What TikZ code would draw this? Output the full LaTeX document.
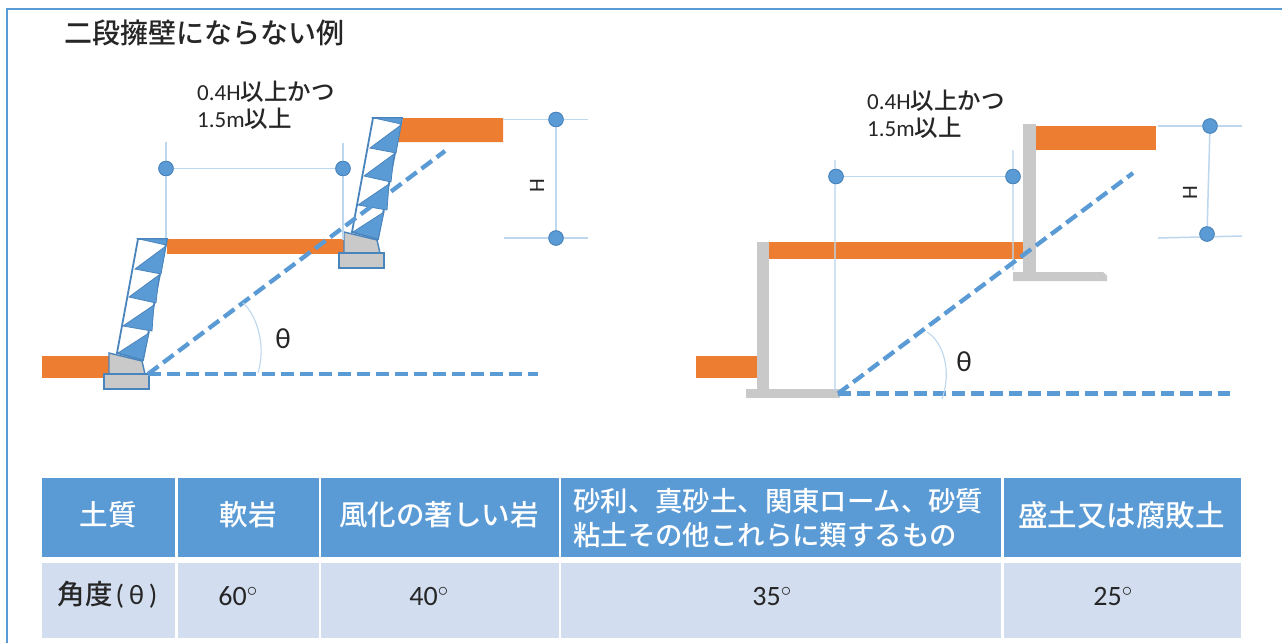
\documentclass[tikz,border=0pt]{standalone}
\usepackage{fontspec}
\setmainfont{Carlito}
\newfontfamily\cjk{Noto Sans CJK JP}[UprightFont=* Medium]
\definecolor{mblue}{HTML}{5B9BD5}
\definecolor{dblue}{HTML}{4A84BC}
\definecolor{lblue}{HTML}{BDD7EE}
\definecolor{morange}{HTML}{ED7D31}
\definecolor{mgray}{HTML}{C9C9C9}
\definecolor{rowfill}{HTML}{D2DEEF}
\definecolor{ink}{HTML}{262626}
\tikzset{
  dimline/.style={draw=lblue,line width=1.5pt},
  slopeline/.style={draw=mblue,line width=4.3pt,dash pattern=on 13pt off 6pt},
  dot/.style={circle,fill=mblue,draw=dblue,line width=0.8pt,minimum size=14.5pt,inner sep=0pt},
  soil/.style={fill=morange},
  concrete/.style={fill=mgray},
  footing/.style={fill=mgray,draw=dblue,line width=1.4pt},
  gabion/.style={draw=dblue,line width=1.8pt,fill=white},
  wedge/.style={fill=mblue,draw=dblue,line width=0.8pt},
  note/.style={font=\fontsize{23}{27}\selectfont,text=ink,align=left,anchor=west,inner sep=0pt},
  heightmark/.style={font=\fontsize{22}{24}\selectfont,text=ink,rotate=90,inner sep=0pt},
  anglemark/.style={font=\fontsize{29}{30}\selectfont,text=ink,inner sep=0pt},
  headcell/.style={fill=mblue},
  bodycell/.style={fill=rowfill},
  headtext/.style={font=\cjk\fontsize{28.5}{34}\selectfont,text=white,inner sep=0pt},
  bodytext/.style={font=\fontsize{28}{30}\selectfont,text=ink,inner sep=0pt},
}
\newcommand{\gabionwall}{%
  \fill[footing] (109,353) -- (142,361) -- (145,374) -- (109,374) -- cycle;
  \fill[footing] (104,374) rectangle (149,389);
  \fill[gabion] (138,239) -- (167,239) -- (143,360) -- (117,353) -- cycle;
  \fill[wedge] (139,239) -- (167,239) -- (166,245) -- cycle;
  \fill[wedge] (166,246) -- (135,269) -- (161,274) -- cycle;
  \fill[wedge] (159,275) -- (129,297) -- (156,303) -- cycle;
  \fill[wedge] (154,305) -- (123,326) -- (152,331) -- cycle;
  \fill[wedge] (149,333) -- (118,353) -- (143,360) -- cycle;
}
\begin{document}
\begin{tikzpicture}[x=1pt,y=-1pt]
\useasboundingbox (0,0) rectangle (1282,643);
\fill[white] (0,0) rectangle (1282,643);
% frame
\coordinate (fa) at (7,643);
\coordinate (fb) at (7,9);
\coordinate (fc) at (1282,9);
\draw[mblue,line width=2.2pt] (fa) -- (fb) -- (fc);
\node[font=\cjk\fontsize{28}{30}\selectfont,text=ink,anchor=west,inner sep=0pt] (title) at (64,33) {二段擁壁にならない例};

% ---- left figure
\fill[soil] (42,356) rectangle (109,378);
\fill[soil] (167,239) rectangle (345,254);
\fill[soil] (403,118) -- (503,118) -- (503,142) -- (398,142) -- cycle;
\gabionwall
\begin{scope}[shift={(235,-121)}]
\gabionwall
\end{scope}
\node[dot] (la) at (166,168.5) {};
\node[dot] (lb) at (343,168.5) {};
\coordinate (lat) at (166,142);
\coordinate (lab) at (166,238);
\coordinate (lbt) at (343,143);
\coordinate (lbb) at (343,240);
\draw[dimline] (lat) -- (lab);
\draw[dimline] (lbt) -- (lbb);
\draw[dimline] (la) -- (lb);
\node[dot] (lc) at (556,119.5) {};
\node[dot] (ld) at (556,238) {};
\coordinate (lcl) at (503,119.5);
\coordinate (lcr) at (588,119.5);
\coordinate (ldl) at (504,238);
\coordinate (ldr) at (588,238);
\draw[dimline] (lcl) -- (lcr);
\draw[dimline] (ldl) -- (ldr);
\draw[dimline] (lc) -- (ld);
\node[dot] at (556,119.5) {};
\node[dot] at (556,238) {};
\node[dot] at (166,168.5) {};
\node[dot] at (343,168.5) {};
\node[heightmark] (lh) at (537,186) {H};
\coordinate (lo) at (148,374);
\coordinate (lsl) at (445,151);
\coordinate (lhz) at (538,374);
\draw[slopeline] (lo) -- (lsl);
\draw[slopeline] (lo) -- (lhz);
\coordinate (laa) at (243,303);
\coordinate (lab2) at (258,373);
\draw[dimline,line width=1.1pt] (laa) .. controls (255,313) and (267,343) .. (lab2);
\node[anglemark] (lt) at (283,339) {θ};
\node[note] (ln) at (197,105.5) {0.4H{\cjk\fontsize{23.5}{27}\selectfont 以上かつ}\\1.5m{\cjk\fontsize{23.5}{27}\selectfont 以上}};

% ---- right figure
\fill[soil] (696,356) rectangle (757,378);
\fill[soil] (769,242) rectangle (1023,259);
\fill[soil] (1036,126) rectangle (1156,150);
\fill[concrete] (757,242) rectangle (769,390);
\fill[concrete] (746,389) rectangle (840,398);
\fill[concrete] (1023,124) rectangle (1036,272);
\fill[concrete] (1013,272) -- (1103,272) -- (1107,276) -- (1107,281) -- (1013,281) -- cycle;
\node[dot] (ra) at (836,176.5) {};
\node[dot] (rb) at (1013,176.5) {};
\coordinate (rat) at (835,160);
\coordinate (rab) at (835,391);
\coordinate (rbt) at (1013,150);
\coordinate (rbb) at (1013,270);
\draw[dimline,draw opacity=.7] (rat) -- (rab);
\draw[dimline,draw opacity=.7] (rbt) -- (rbb);
\draw[dimline] (ra) -- (rb);
\node[dot] at (836,176.5) {};
\node[dot] at (1013,176.5) {};
\node[dot] (rc) at (1210,126) {};
\node[dot] (rd) at (1207,234) {};
\coordinate (rcl) at (1158,126);
\coordinate (rcr) at (1242,126);
\coordinate (rdl) at (1158,238);
\coordinate (rdr) at (1242,236);
\draw[dimline] (rcl) -- (rcr);
\draw[dimline] (rdl) -- (rdr);
\draw[dimline] (rc) -- (rd);
\node[dot] at (1210,126) {};
\node[dot] at (1207,234) {};
\node[heightmark] (rh) at (1190,193) {H};
\coordinate (ro) at (838,393.5);
\coordinate (rsl) at (1133,173);
\coordinate (rhz) at (1230,393.5);
\draw[slopeline] (ro) -- (rsl);
\draw[slopeline] (ro) -- (rhz);
\coordinate (raa) at (927,332);
\coordinate (rab2) at (942,399);
\draw[dimline,line width=1.1pt] (raa) .. controls (941,340) and (953,368) .. (rab2);
\node[anglemark] (rt) at (964,362) {θ};
\node[note] (rn) at (867,114) {0.4H{\cjk\fontsize{23.5}{27}\selectfont 以上かつ}\\1.5m{\cjk\fontsize{23.5}{27}\selectfont 以上}};

% ---- table
\fill[headcell] (42,478) rectangle (175,557);
\fill[headcell] (177.5,478) rectangle (318.5,557);
\fill[headcell] (321,478) rectangle (558.5,557);
\fill[headcell] (561,478) rectangle (1001,557);
\fill[headcell] (1003.5,478) rectangle (1241,557);
\fill[bodycell] (42,563) rectangle (175,638);
\fill[bodycell] (177.5,563) rectangle (318.5,638);
\fill[bodycell] (321,563) rectangle (558.5,638);
\fill[bodycell] (561,563) rectangle (1001,638);
\fill[bodycell] (1003.5,563) rectangle (1241,638);
\node[headtext] (h1) at (108,515) {土質};
\node[headtext] (h2) at (248,515) {軟岩};
\node[headtext] (h3) at (439,515) {風化の著しい岩};
\node[headtext,font=\cjk\fontsize{27.4}{34}\selectfont,align=left,anchor=west] (h4) at (573,518) {砂利、真砂土、関東ローム、砂質\\粘土その他これらに類するもの};
\node[headtext,font=\cjk\fontsize{29.5}{34}\selectfont] (h5) at (1121.5,515) {盛土又は腐敗土};
\node[bodytext] (b1) at (107.5,595) {{\cjk\fontsize{27.5}{30}\selectfont 角度}\kern3pt(\kern5ptθ\kern5pt)};
\node[bodytext] (b2) at (238,596) {60$^{\circ}$};
\node[bodytext] (b3) at (429,596) {40$^{\circ}$};
\node[bodytext] (b4) at (772,596) {35$^{\circ}$};
\node[bodytext] (b5) at (1113,596) {25$^{\circ}$};
\end{tikzpicture}
\end{document}
